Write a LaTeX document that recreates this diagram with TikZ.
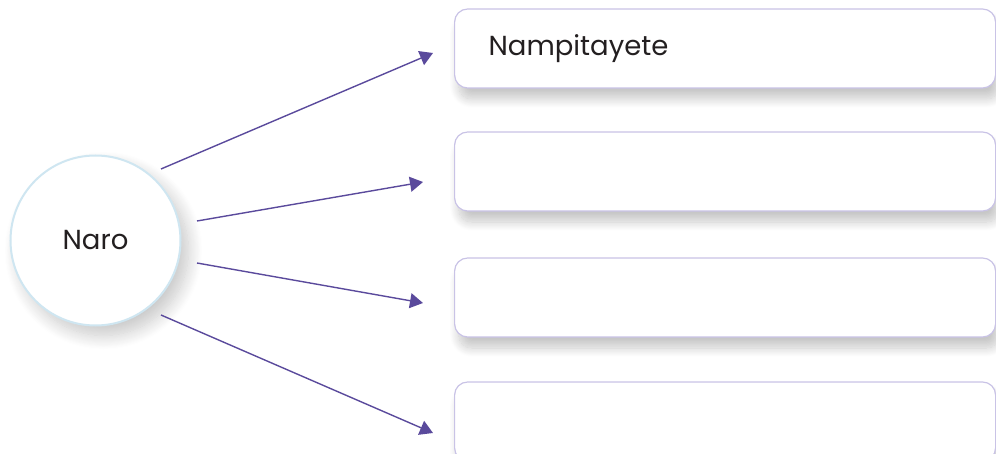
\documentclass[tikz,border=0pt]{standalone}
\usepackage{fontspec}
\setmainfont{Poppins}
\usetikzlibrary{arrows.meta,shadows.blur}
\definecolor{arrowpurple}{HTML}{5A4A9C}
\definecolor{boxline}{HTML}{C9C3E6}
\definecolor{ringblue}{HTML}{CFE6F1}
\definecolor{inktext}{HTML}{231F20}
\begin{document}
\begin{tikzpicture}[x=1pt,y=-1pt,
		answerbox/.style={draw=boxline, line width=1.2pt, fill=white, rounded corners=13pt,
			minimum height=79pt, text width=473pt, inner xsep=34pt, align=left, anchor=west,
			font=\fontsize{27.5}{32}\selectfont, text=inktext,
			blur shadow={shadow xshift=4pt, shadow yshift=-11pt, shadow blur radius=9pt,
				shadow blur steps=16, shadow opacity=22}},
		link/.style={arrowpurple, line width=1.4pt, -{Triangle[length=13pt,width=15pt]}}]
		\useasboundingbox (0,0) rectangle (996,454);
		\clip (0,0) rectangle (996,454);

		\node[circle, draw=ringblue, line width=2pt, fill=white, minimum size=170pt, text=inktext,
			font=\fontsize{27.5}{32}\selectfont,
			blur shadow={shadow xshift=8pt, shadow yshift=-10pt, shadow blur radius=14pt,
				shadow blur steps=16, shadow opacity=22}]
			(naro) at (95.5,240.5) {Naro};

		\node[answerbox] (box1) at (454,48.5) {Nampitayete};
		\node[answerbox] (box2) at (454,171.5) {};
		\node[answerbox] (box3) at (454,297.5) {};
		\node[answerbox] (box4) at (454,421.5) {};

		\coordinate (s1) at (161,169);
		\coordinate (s2) at (197,221);
		\coordinate (s3) at (197,263);
		\coordinate (s4) at (161,315);
		\coordinate (t1) at (433,53);
		\coordinate (t2) at (423,182);
		\coordinate (t3) at (423,303);
		\coordinate (t4) at (433,433);

		\foreach \i in {1,...,4}
			\draw[link] (s\i) -- (t\i);
	\end{tikzpicture}
\end{document}
